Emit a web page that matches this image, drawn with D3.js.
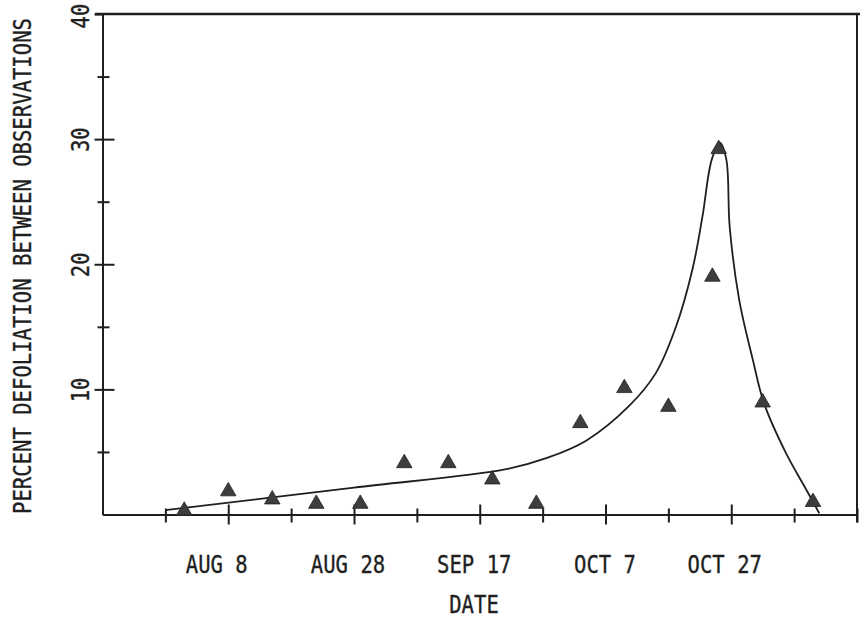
<!DOCTYPE html>
<html>
<head>
<meta charset="utf-8">
<script src="https://cdn.jsdelivr.net/npm/d3@7"></script>
<style>
  html, body { margin: 0; padding: 0; background: #fff; }
  svg { display: block; }
</style>
</head>
<body>
<svg id="chart" width="860" height="617"></svg>
<script>
// Weekly observations of defoliation
const obsDates = ["Aug 1", "Aug 8", "Aug 15", "Aug 22", "Aug 29", "Sep 5", "Sep 12", "Sep 19",
                  "Sep 26", "Oct 3", "Oct 10", "Oct 17", "Oct 24", "Oct 25", "Nov 1", "Nov 9"];
const obsValues = [0.3, 1.85, 1.2, 0.85, 0.85, 4.1, 4.1, 2.8,
                   0.85, 7.3, 10.1, 8.6, 19.0, 29.2, 8.95, 1.0];

// Fitted curve (date with hour, percent)
const fitDates = ["Jul 29 00", "Aug 28 00", "Sep 21 00", "Sep 27 14", "Oct 03 22",
                  "Oct 10 19", "Oct 15 00", "Oct 18 05", "Oct 20 20", "Oct 22 10", "Oct 23 22",
                  "Oct 25 05", "Oct 26 05", "Oct 26 18", "Oct 28 06", "Oct 30 10", "Nov 01 05",
                  "Nov 04 17", "Nov 07 22", "Nov 10 00"];
const fitValues = [0.35, 2.15, 3.6, 4.5, 5.9,
                   8.7, 11.3, 15.0, 19.6, 23.8, 28.4,
                   29.7, 28.4, 23.0, 17.2, 12.4, 8.9,
                   4.9, 2.0, 0.1];

// Axis ticks
const xDomain = ["Jul 19", "Nov 16"];
const xTickDates = ["Jul 29", "Aug 8", "Aug 18", "Aug 28", "Sep 7", "Sep 17",
                    "Sep 27", "Oct 7", "Oct 17", "Oct 27", "Nov 6", "Nov 16"];
const xTickLabels = ["", "AUG 8", "", "AUG 28", "", "SEP 17",
                     "", "OCT 7", "", "OCT 27", "", ""];
const yTickValues = [5, 10, 15, 20, 25, 30, 35, 40];
const yTickLabels = ["", "10", "", "20", "", "30", "", "40"];

const xTitle = "DATE";
const yTitle = "PERCENT DEFOLIATION BETWEEN OBSERVATIONS";

// Hand-set horizontal nudges of the date labels under their ticks (px)
const xLabelShift = [0, -12, 0, -6.5, 0, -6, 0, -1, 0, -7, 0, 0];

const parseDay = d3.timeParse("%b %d");
const parseHour = d3.timeParse("%b %d %H");

const ink = "#1f1f1f";
const font = "'DejaVu Sans Mono', 'Liberation Mono', monospace";
const charW = 12.4;

const svg = d3.select("#chart");

const x = d3.scaleTime()
  .domain(xDomain.map(parseDay))
  .range([102.5, 857]);
const y = d3.scaleLinear()
  .domain([0, 40])
  .range([514.5, 14]);

// Narrow, tall lettering: set the font, then squeeze each string
// horizontally so every character advances by charW.
function styleText(sel, place) {
  sel.attr("font-family", font)
     .attr("font-size", 24)
     .attr("fill", ink)
     .attr("stroke", ink)
     .attr("stroke-width", 0.35)
     .attr("x", 0).attr("y", 0).attr("dy", 0)
     .attr("text-anchor", "middle")
     .each(function (d, i) {
       const t = d3.select(this).text();
       const natural = t.length ? this.getComputedTextLength() : 1;
       const sx = t.length ? (t.length * charW) / natural : 1;
       d3.select(this).attr("transform", `${place(d, i)} scale(${sx},1)`);
     });
}

// Frame: top and right borders
svg.append("line")
  .attr("x1", 95).attr("x2", 860)
  .attr("y1", y(40)).attr("y2", y(40))
  .attr("stroke", ink).attr("stroke-width", 2.4);
svg.append("line")
  .attr("x1", x(parseDay("Nov 16"))).attr("x2", x(parseDay("Nov 16")))
  .attr("y1", y(40)).attr("y2", y(0) + 8)
  .attr("stroke", ink).attr("stroke-width", 2);

// X axis
const xMajor = new Set(xTickLabels.map((l, i) => l ? i : -1).filter(i => i >= 0));
const gx = svg.append("g")
  .attr("transform", `translate(0,${y(0)})`)
  .call(d3.axisBottom(x)
    .tickValues(xTickDates.map(parseDay))
    .tickFormat((d, i) => xTickLabels[i])
    .tickSizeOuter(0));
gx.select(".domain").attr("stroke", ink).attr("stroke-width", 2);
gx.selectAll(".tick line")
  .attr("stroke", ink).attr("stroke-width", 2)
  .attr("y1", (d, i) => xMajor.has(i) ? -10 : -6)
  .attr("y2", (d, i) => xMajor.has(i) ? 10 : 8);
gx.selectAll(".tick text")
  .call(styleText, (d, i) => `translate(${xLabelShift[i]},58)`);

// Y axis
const gy = svg.append("g")
  .attr("transform", `translate(${x(parseDay(xDomain[0]))},0)`)
  .call(d3.axisLeft(y)
    .tickValues(yTickValues)
    .tickFormat((d, i) => yTickLabels[i])
    .tickSizeOuter(0));
gy.select(".domain").attr("stroke", ink).attr("stroke-width", 2);
gy.selectAll(".tick line")
  .attr("stroke", ink).attr("stroke-width", 2)
  .attr("x1", d => d % 10 === 0 ? -8 : -5)
  .attr("x2", d => d === 40 ? 0 : (d % 10 === 0 ? 12 : 7));
gy.selectAll(".tick text")
  .call(styleText, d => d === 40 ? "translate(-13.5,1.5) rotate(-90)" : "translate(-13.5,0) rotate(-90)");

// Axis titles
svg.append("text")
  .text(xTitle)
  .call(styleText, () => "translate(474,612.5)");
svg.append("text")
  .text(yTitle)
  .call(styleText, () => "translate(31,266) rotate(-90)");

// Fitted curve
const fit = fitDates.map((d, i) => ({ date: parseHour(d), value: fitValues[i] }));
svg.append("path")
  .datum(fit)
  .attr("fill", "none")
  .attr("stroke", ink)
  .attr("stroke-width", 1.8)
  .attr("d", d3.line()
    .x(d => x(d.date))
    .y(d => y(d.value))
    .curve(d3.curveCatmullRom.alpha(0.5)));

// Observation markers
const obs = obsDates.map((d, i) => ({ date: parseDay(d), value: obsValues[i] }));
const tri = d3.symbol().type(d3.symbolTriangle).size(104);
svg.append("g")
  .selectAll("path")
  .data(obs)
  .join("path")
  .attr("transform", d => `translate(${x(d.date)},${y(d.value)})`)
  .attr("d", tri)
  .attr("fill", "#3d3d3d")
  .attr("stroke", "#222")
  .attr("stroke-width", 0.8);
</script>
</body>
</html>
